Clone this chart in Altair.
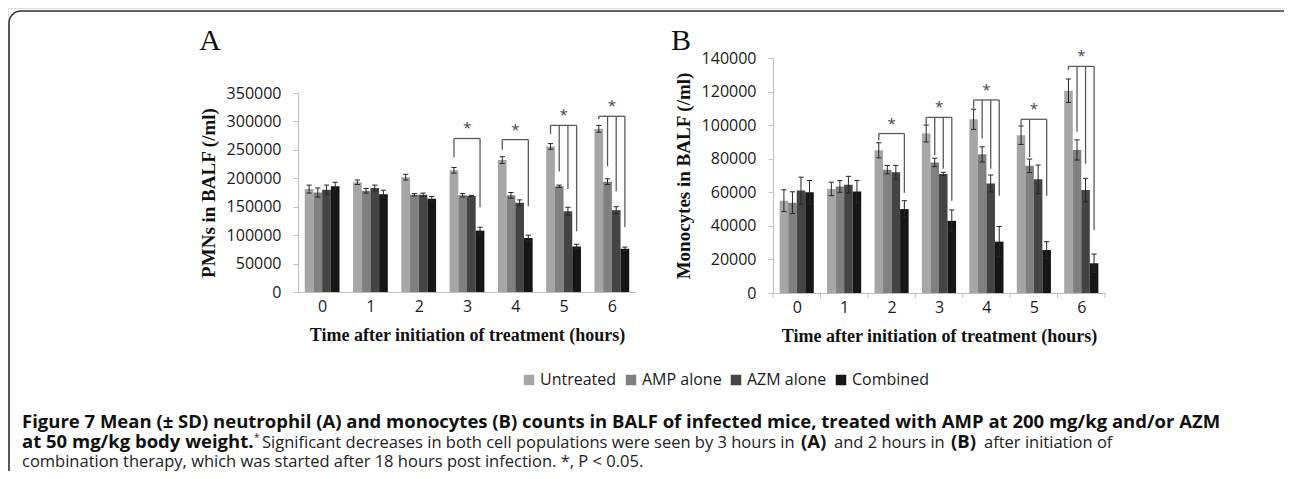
import altair as alt
import pandas as pd

# ---------------- data ----------------
hours = [0, 1, 2, 3, 4, 5, 6]
series = ["Untreated", "AMP alone", "AZM alone", "Combined"]
series_colors = ["#a6a6a6", "#808080", "#444444", "#161616"]

# Panel A: PMNs in BALF (/ml)
pmn_untreated = [181000, 193000, 202000, 214000, 232000, 256000, 287000]
pmn_amp = [175000, 178000, 171000, 170000, 170000, 186000, 194000]
pmn_azm = [180000, 183000, 171000, 169000, 157000, 142000, 144000]
pmn_comb = [186000, 172000, 164000, 108000, 95000, 80000, 76000]
pmn_untreated_sd = [7000, 4000, 5000, 5000, 6000, 5000, 6000]
pmn_amp_sd = [8000, 4000, 2000, 3000, 5000, 2000, 5000]
pmn_azm_sd = [8000, 5000, 3000, 1000, 5000, 7000, 6000]
pmn_comb_sd = [7000, 7000, 4000, 6000, 5000, 4000, 3000]

# Panel B: Monocytes in BALF (/ml)
mono_untreated = [55000, 62000, 85000, 95000, 103500, 94000, 120500]
mono_amp = [53800, 63500, 73500, 77800, 82600, 75800, 85200]
mono_azm = [61000, 64500, 72000, 70900, 65300, 67700, 61300]
mono_comb = [60000, 60500, 50000, 43000, 30600, 25600, 17700]
mono_untreated_sd = [6500, 4000, 4500, 5000, 6000, 5500, 7000]
mono_amp_sd = [6500, 3500, 2500, 2500, 4500, 4000, 6000]
mono_azm_sd = [8000, 5000, 4000, 1000, 5000, 8500, 7000]
mono_comb_sd = [7000, 6500, 5000, 6500, 9000, 5000, 5500]

# significance brackets (hour, bracket top, leg bottoms per series; None = no leg)
pmn_sig_hours = [3, 4, 5, 6]
pmn_sig_top = [270000, 268000, 293000, 309000]
pmn_leg_untreated = [237000, 250000, 278000, 304000]
pmn_leg_amp = [None, None, 212000, 221000]
pmn_leg_azm = [None, None, 181000, 177000]
pmn_leg_comb = [149000, 151000, 107000, 114000]

mono_sig_hours = [2, 3, 4, 5, 6]
mono_sig_top = [95000, 104600, 115000, 103500, 135000]
mono_leg_untreated = [91000, 100000, 110000, 100000, 133000]
mono_leg_amp = [None, 82000, 92000, 81000, 96000]
mono_leg_azm = [None, 74000, 74000, None, 77000]
mono_leg_comb = [59700, 55000, 58000, 58000, 37500]

pmn_ticks = [0, 50000, 100000, 150000, 200000, 250000, 300000, 350000]
mono_ticks = [0, 20000, 40000, 60000, 80000, 100000, 120000, 140000]

x_title = "Time after initiation of treatment (hours)"
pmn_title = "PMNs in BALF (/ml)"
mono_title = "Monocytes in BALF (/ml)"

caption_line1 = "Figure 7 Mean (\u00b1 SD) neutrophil (A) and monocytes (B) counts in BALF of infected mice, treated with AMP at 200 mg/kg and/or AZM"
caption_line2_parts = [
    ("at 50 mg/kg body weight.", "bold"),
    ("Significant decreases in both cell populations were seen by 3 hours in", "normal"),
    ("(A)", "bold"),
    ("and 2 hours in", "normal"),
    ("(B)", "bold"),
    ("after initiation of", "normal"),
]
caption_line3 = "combination therapy, which was started after 18 hours post infection. *, P < 0.05."

# ---------------- geometry / style ----------------
BW = 0.18     # bar width in hour units
CAP = 0.055   # error cap half width in hour units
W, H = 1276, 463
SANS = "Open Sans"
SERIF = "Liberation Serif"
AXIS_GRAY = "#bfbfbf"
TXT = "#1a1a1a"


def bar_frame(means, sds):
    rows = []
    for si, name in enumerate(series):
        for ti, h in enumerate(hours):
            c = h + (si - 1.5) * BW
            m = means[si][ti]
            s = sds[si][ti]
            rows.append({"series": name, "hour": h, "c": c, "x0": c - BW / 2, "x1": c + BW / 2,
                         "mean": m, "lo": m - s, "hi": m + s, "cl": c - CAP, "cr": c + CAP})
    return pd.DataFrame(rows)


def bracket_frames(sig_hours, tops, legs):
    hrows, lrows, srows = [], [], []
    for k, h in enumerate(sig_hours):
        cs = []
        for si in range(4):
            b = legs[si][k]
            if b is None:
                continue
            c = h + (si - 1.5) * BW
            cs.append(c)
            lrows.append({"c": c, "top": tops[k], "bottom": b})
        hrows.append({"x0": min(cs), "x1": max(cs), "top": tops[k]})
        srows.append({"xm": (min(cs) + max(cs)) / 2, "top": tops[k]})
    return pd.DataFrame(hrows), pd.DataFrame(lrows), pd.DataFrame(srows)


legend = alt.Legend(orient="none", legendX=513, legendY=364, direction="horizontal",
                    title=None, symbolType="square", symbolSize=110, symbolStrokeWidth=0,
                    labelFont=SANS, labelFontSize=16, labelColor=TXT, columnPadding=6,
                    symbolOffset=0, labelOffset=3)
color = alt.Color("series:N", scale=alt.Scale(domain=series, range=series_colors), legend=legend)


def panel(df, hdf, ldf, sdf, xrange, yrange, ydomain, yvalues, ytitle, yoff, xoff, boundary_ticks):
    xs = alt.Scale(domain=[-0.5, 6.5], range=xrange, nice=False, zero=False)
    ys = alt.Scale(domain=ydomain, range=yrange, nice=False, zero=True)
    xax = alt.Axis(orient="bottom", offset=xoff, values=hours, title=x_title, ticks=False,
                   grid=False, domainColor=AXIS_GRAY, labelFont=SANS, labelFontSize=16,
                   labelColor=TXT, labelPadding=6, labelAngle=0, titleFont=SERIF,
                   titleFontSize=18, titleFontWeight="bold", titleColor="#111111",
                   titlePadding=12)
    yax = alt.Axis(orient="left", offset=yoff, values=yvalues, format="d", title=ytitle,
                   grid=False, domainColor=AXIS_GRAY, tickColor=AXIS_GRAY, tickSize=5,
                   labelFont=SANS, labelFontSize=16, labelColor=TXT, labelPadding=12,
                   titleFont=SERIF, titleFontSize=19, titleFontWeight="bold",
                   titleColor="#111111", titlePadding=8)

    def X(f):
        return alt.X(f, scale=xs, axis=xax)

    def Y(f):
        return alt.Y(f, scale=ys, axis=yax)

    base = alt.Chart(df)
    bars = base.mark_rect().encode(x=X("x0:Q"), x2="x1:Q", y=Y("mean:Q"), y2=alt.datum(0), color=color)
    err = base.mark_rule(color="#262626", strokeWidth=1).encode(x=X("c:Q"), y=Y("lo:Q"), y2="hi:Q")
    cap_lo = base.mark_rule(color="#262626", strokeWidth=1).encode(x=X("cl:Q"), x2="cr:Q", y=Y("lo:Q"))
    cap_hi = base.mark_rule(color="#262626", strokeWidth=1).encode(x=X("cl:Q"), x2="cr:Q", y=Y("hi:Q"))
    hb = alt.Chart(hdf).mark_rule(color="#5a5a5a", strokeWidth=1.3).encode(x=X("x0:Q"), x2="x1:Q", y=Y("top:Q"))
    legs = alt.Chart(ldf).mark_rule(color="#5a5a5a", strokeWidth=1.3).encode(x=X("c:Q"), y=Y("top:Q"), y2="bottom:Q")
    stars = alt.Chart(sdf).mark_text(text="*", dy=-10, fontSize=15, font=SANS, color="#444444").encode(
        x=X("xm:Q"), y=Y("top:Q"))
    layers = [bars, err, cap_lo, cap_hi, hb, legs, stars]
    if boundary_ticks:
        tdf = pd.DataFrame({"b": [h - 0.5 for h in hours] + [hours[-1] + 0.5]})
        y0 = yrange[0]
        layers.append(alt.Chart(tdf).mark_rule(color=AXIS_GRAY).encode(
            x=X("b:Q"), y=alt.value(y0), y2=alt.value(y0 + 5)))
    return alt.layer(*layers)


pmn_df = bar_frame([pmn_untreated, pmn_amp, pmn_azm, pmn_comb],
                   [pmn_untreated_sd, pmn_amp_sd, pmn_azm_sd, pmn_comb_sd])
mono_df = bar_frame([mono_untreated, mono_amp, mono_azm, mono_comb],
                    [mono_untreated_sd, mono_amp_sd, mono_azm_sd, mono_comb_sd])
pmn_h, pmn_l, pmn_s = bracket_frames(pmn_sig_hours, pmn_sig_top,
                                     [pmn_leg_untreated, pmn_leg_amp, pmn_leg_azm, pmn_leg_comb])
mono_h, mono_l, mono_s = bracket_frames(mono_sig_hours, mono_sig_top,
                                        [mono_leg_untreated, mono_leg_amp, mono_leg_azm, mono_leg_comb])

# plot areas in view pixels (page minus 8px margin)
A_X = [290, 628]
A_Y = [284, 85]
B_X = [765, 1097]
B_Y = [285, 50]

panelA = panel(pmn_df, pmn_h, pmn_l, pmn_s, A_X, A_Y, [0, 350000], pmn_ticks, pmn_title,
               -A_X[0], A_Y[0] - H, False)
panelB = panel(mono_df, mono_h, mono_l, mono_s, B_X, B_Y, [0, 140000], mono_ticks, mono_title,
               -B_X[0], B_Y[0] - H, True)

one = pd.DataFrame({"k": [0]})

frame = alt.Chart(one).mark_rect(fill=None, stroke="#333333", strokeWidth=1.6, cornerRadius=12).encode(
    x=alt.value(1), x2=alt.value(1290), y=alt.value(3), y2=alt.value(520))

letters = alt.Chart(pd.DataFrame({"t": ["A", "B"], "x": [202, 673], "y": [42, 42]})).mark_text(
    font=SERIF, fontSize=30, color="#111111", align="center", baseline="alphabetic").encode(
    text="t:N", x=alt.X("x:Q", scale=None), y=alt.Y("y:Q", scale=None))

BOLD_SIZE = 18.5
REG_SIZE = 16.5
bold_df = pd.DataFrame({
    "t": [caption_line1, caption_line2_parts[0][0], caption_line2_parts[2][0], caption_line2_parts[4][0]],
    "x": [14, 14, 793, 943],
    "y": [420, 440, 440, 440],
})
norm_df = pd.DataFrame({
    "t": [caption_line2_parts[1][0], caption_line2_parts[3][0], caption_line2_parts[5][0], caption_line3],
    "x": [254, 826, 976, 14],
    "y": [440, 440, 440, 459],
})
cap_bold = alt.Chart(bold_df).mark_text(font=SANS, fontSize=BOLD_SIZE, fontWeight="bold", color="#111111",
                                        align="left", baseline="alphabetic").encode(
    text="t:N", x=alt.X("x:Q", scale=None), y=alt.Y("y:Q", scale=None))
cap_norm = alt.Chart(norm_df).mark_text(font=SANS, fontSize=REG_SIZE, color="#222222",
                                        align="left", baseline="alphabetic").encode(
    text="t:N", x=alt.X("x:Q", scale=None), y=alt.Y("y:Q", scale=None))
sup_star = alt.Chart(pd.DataFrame({"t": ["*"], "x": [246], "y": [433]})).mark_text(
    font=SANS, fontSize=10, color="#222222", align="left", baseline="alphabetic").encode(
    text="t:N", x=alt.X("x:Q", scale=None), y=alt.Y("y:Q", scale=None))

chart = alt.layer(frame, panelA, panelB, letters, cap_bold, cap_norm, sup_star).resolve_scale(
    x="independent", y="independent"
).properties(
    width=W, height=H, padding=0, autosize=alt.AutoSizeParams(type="none")
).configure_view(stroke=None).configure(background="white")

chart.save("out.html", embed_options={"renderer": "svg", "actions": False})
